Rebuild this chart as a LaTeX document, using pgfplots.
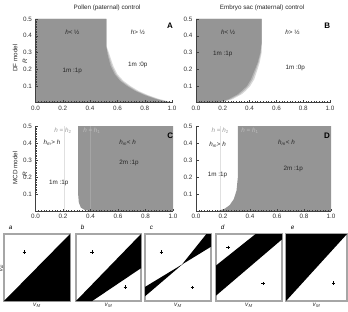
\documentclass[border=0pt]{standalone}
\usepackage{pgfplots}
\pgfplotsset{compat=1.18}
\usepackage{fontspec}
\setmainfont{Liberation Sans}
\definecolor{fillg}{HTML}{959595}
\definecolor{band1}{HTML}{B5B5B5}
\definecolor{band2}{HTML}{D8D8D8}
\newcommand{\sm}{\fontsize{6.3}{7}\selectfont}
\pgfplotsset{
  panel/.style={scale only axis, xmin=0, xmax=1, ymin=0, ymax=0.5,
    axis x line*=bottom, axis y line*=left, axis on top, clip=false,
    axis line style={black!75, line width=0.4pt},
    tick align=inside, tick style={black!75, line width=0.3pt},
    major tick length=2.5pt, minor tick length=1.3pt,
    xtick={0,0.2,0.4,0.6,0.8,1}, ytick={0.1,0.2,0.3,0.4,0.5},
    minor x tick num=9, minor y tick num=9,
    ticklabel style={font=\sm, text=black!80},
    xticklabel style={/pgf/number format/fixed, /pgf/number format/fixed zerofill, /pgf/number format/precision=1},
    yticklabel style={/pgf/number format/fixed, /pgf/number format/fixed zerofill, /pgf/number format/precision=1},
    /pgf/number format/assume math mode=true},
  small/.style={scale only axis, xmin=0, xmax=1, ymin=0, ymax=1, ticks=none,
    axis line style={black!35, line width=1.1pt}, clip=false, width=66pt, height=67pt},
}
\newcommand{\lab}[3]{\node[font=\sm, text=black!85] at (axis cs:#1,#2) {#3};}
\begin{document}
\begin{tikzpicture}
\useasboundingbox (0pt,0pt) rectangle (348pt,311pt);
% titles
\node[font=\sm, text=black!85] at (107pt,303pt) {Pollen (paternal) control};
\node[font=\sm, text=black!85] at (262pt,303pt) {Embryo sac (maternal) control};
\node[font=\sm, text=black!85, rotate=90] at (15pt,253pt) {DF model};
\node[font=\sm, text=black!85, rotate=90] at (25pt,250pt) {\textit{R}};
\node[font=\sm, text=black!85, rotate=90] at (15pt,143pt) {MCD model};
\node[font=\sm, text=black!85, rotate=90] at (25pt,137pt) {\textit{R}};
% Panel A
\begin{axis}[panel, at={(35.5pt,208.3pt)}, anchor=south west, width=136.5pt, height=83.7pt]
\addplot[fill=band2, draw=none] coordinates {(0,0) (0,0.5) (0.52,0.5) (0.52,0.34) (0.545,0.28) (0.57,0.22) (0.60,0.17) (0.645,0.13) (0.695,0.10) (0.755,0.07) (0.825,0.045) (0.905,0.022) (1,0.003) (1,0)};
\addplot[fill=band1, draw=none] coordinates {(0,0) (0,0.5) (0.52,0.5) (0.52,0.33) (0.537,0.28) (0.56,0.22) (0.59,0.17) (0.632,0.13) (0.682,0.10) (0.742,0.07) (0.812,0.045) (0.892,0.022) (1,0)};
\addplot[fill=fillg, draw=none] coordinates {(0,0) (0,0.5) (0.52,0.5) (0.52,0.33) (0.53,0.28) (0.55,0.22) (0.58,0.17) (0.62,0.13) (0.67,0.10) (0.73,0.07) (0.8,0.045) (0.88,0.022) (0.97,0.004) (1,0)};
\lab{0.27}{0.42}{\textit{h}< ½}
\lab{0.75}{0.42}{\textit{h}> ½}
\lab{0.27}{0.19}{1m :1p}
\lab{0.75}{0.225}{1m :0p}
\node[font=\bfseries\fontsize{8}{9}\selectfont] at (axis cs:0.985,0.46) {A};
\end{axis}
% Panel B
\begin{axis}[panel, at={(196pt,208.3pt)}, anchor=south west, width=134pt, height=83.7pt]
\addplot[fill=band2, draw=none] coordinates {(0,0) (0,0.5) (0.49,0.5) (0.49,0.36) (0.49,0.3) (0.475,0.24) (0.46,0.2) (0.435,0.14) (0.405,0.1) (0.37,0.07) (0.34,0.05) (0.27,0.02) (0.18,0)};
\addplot[fill=band1, draw=none] coordinates {(0,0) (0,0.5) (0.49,0.5) (0.49,0.36) (0.485,0.3) (0.467,0.24) (0.45,0.2) (0.422,0.14) (0.392,0.1) (0.355,0.07) (0.325,0.05) (0.255,0.02) (0.165,0)};
\addplot[fill=fillg, draw=none] coordinates {(0,0) (0,0.5) (0.49,0.5) (0.49,0.36) (0.48,0.3) (0.46,0.24) (0.44,0.2) (0.41,0.14) (0.38,0.1) (0.34,0.07) (0.31,0.05) (0.24,0.02) (0.15,0)};
\lab{0.24}{0.42}{\textit{h}< ½}
\lab{0.72}{0.42}{\textit{h}> ½}
\lab{0.2}{0.29}{1m :1p}
\lab{0.74}{0.21}{1m :0p}
\node[font=\bfseries\fontsize{8}{9}\selectfont] at (axis cs:0.98,0.46) {B};
\end{axis}
% Panel C
\begin{axis}[panel, at={(35.5pt,100pt)}, anchor=south west, width=137.5pt, height=85pt]
\addplot[fill=fillg, draw=none] coordinates {(0.31,0.5) (1,0.5) (1,0) (0.40,0) (0.36,0.005) (0.33,0.02) (0.315,0.05) (0.31,0.1)};
\addplot[draw=black!12, line width=0.4pt] coordinates {(0.21,0) (0.21,0.5)};
\addplot[draw=fillg!85!white, line width=0.3pt] coordinates {(0.40,0) (0.40,0.5)};
\node[font=\sm, text=black!40] at (axis cs:0.2,0.47) {\textit{h} = \textit{h}\textsubscript{2}};
\node[font=\sm, text=black!25] at (axis cs:0.41,0.47) {\textit{h} = \textit{h}\textsubscript{1}};
\lab{0.12}{0.40}{\textit{h}\textsubscript{\textit{m}}> \textit{h}}
\lab{0.67}{0.40}{\textit{h}\textsubscript{\textit{m}}< \textit{h}}
\lab{0.68}{0.28}{2m :1p}
\lab{0.17}{0.165}{1m :1p}
\node[font=\bfseries\fontsize{8}{9}\selectfont] at (axis cs:0.98,0.44) {C};
\end{axis}
% Panel D
\begin{axis}[panel, at={(196pt,100pt)}, anchor=south west, width=135pt, height=85pt]
\addplot[fill=fillg, draw=none] coordinates {(0.31,0.5) (1,0.5) (1,0) (0.16,0) (0.21,0.012) (0.25,0.035) (0.28,0.07) (0.30,0.12) (0.31,0.2)};
\addplot[draw=black!12, line width=0.4pt] coordinates {(0.18,0) (0.18,0.5)};
\node[font=\sm, text=black!40] at (axis cs:0.18,0.47) {\textit{h} = \textit{h}\textsubscript{2}};
\node[font=\sm, text=black!25] at (axis cs:0.40,0.47) {\textit{h} = \textit{h}\textsubscript{1}};
\lab{0.16}{0.39}{\textit{h}\textsubscript{\textit{m}}> \textit{h}}
\lab{0.67}{0.40}{\textit{h}\textsubscript{\textit{m}}< \textit{h}}
\lab{0.72}{0.25}{2m :1p}
\lab{0.16}{0.21}{1m :1p}
\node[font=\bfseries\fontsize{8}{9}\selectfont] at (axis cs:0.97,0.44) {D};
\end{axis}
% bottom panels
\node[font=\fontsize{5}{6}\selectfont, rotate=90, inner sep=0pt] at (2.2pt,43pt) {\textit{v}\textsubscript{\textit{F}}};
\begin{axis}[small, at={(4pt,10pt)}, anchor=south west]
\addplot[fill=black, draw=none] coordinates {(0,0) (1,0) (1,1)};
\addplot[only marks, mark=+, mark size=1.8pt, black, line width=0.4pt] coordinates {(0.31,0.73)};
\node[font=\sm\itshape, anchor=south west] at (rel axis cs:0.02,1.02) {a};
\node[font=\sm, text=black!80] at (rel axis cs:0.5,-0.07) {\textit{v}\textsubscript{\textit{M}}};
\end{axis}
\begin{axis}[small, at={(76pt,10pt)}, anchor=south west, width=65pt]
\addplot[fill=black, draw=none] coordinates {(0,0) (0.25,0) (1,0.49) (1,1)};
\addplot[only marks, mark=+, mark size=1.8pt, black, line width=0.4pt] coordinates {(0.25,0.73) (0.76,0.21)};
\node[font=\sm\itshape, anchor=south west] at (rel axis cs:0.02,1.02) {b};
\node[font=\sm, text=black!80] at (rel axis cs:0.5,-0.07) {\textit{v}\textsubscript{\textit{M}}};
\end{axis}
\begin{axis}[small, at={(145pt,10pt)}, anchor=south west]
\addplot[fill=black, draw=none] coordinates {(0,0.07) (0,0.21) (0.57,0.55)};
\addplot[fill=black, draw=none] coordinates {(0.56,0.545) (0.93,1) (1,1) (1,0.81)};
\addplot[only marks, mark=+, mark size=1.8pt, black, line width=0.4pt] coordinates {(0.25,0.73) (0.72,0.2)};
\node[font=\sm\itshape, anchor=south west] at (rel axis cs:0.02,1.02) {c};
\node[font=\sm, text=black!80] at (rel axis cs:0.5,-0.07) {\textit{v}\textsubscript{\textit{M}}};
\end{axis}
\begin{axis}[small, at={(216pt,10pt)}, anchor=south west]
\addplot[fill=black, draw=none] coordinates {(0,0.08) (0,0.53) (0.6,1) (1,1) (1,0.92)};
\addplot[only marks, mark=+, mark size=1.8pt, black, line width=0.4pt] coordinates {(0.18,0.8) (0.71,0.26)};
\node[font=\sm\itshape, anchor=south west] at (rel axis cs:0.02,1.02) {d};
\node[font=\sm, text=black!80] at (rel axis cs:0.5,-0.07) {\textit{v}\textsubscript{\textit{M}}};
\end{axis}
\begin{axis}[small, at={(286pt,10pt)}, anchor=south west, width=61pt]
\addplot[fill=black, draw=none] coordinates {(0,0) (0,1) (1,1)};
\addplot[only marks, mark=+, mark size=1.8pt, black, line width=0.4pt] coordinates {(0.78,0.27)};
\node[font=\sm\itshape, anchor=south west] at (rel axis cs:0.02,1.02) {e};
\node[font=\sm, text=black!80] at (rel axis cs:0.5,-0.07) {\textit{v}\textsubscript{\textit{M}}};
\end{axis}
\end{tikzpicture}
\end{document}
